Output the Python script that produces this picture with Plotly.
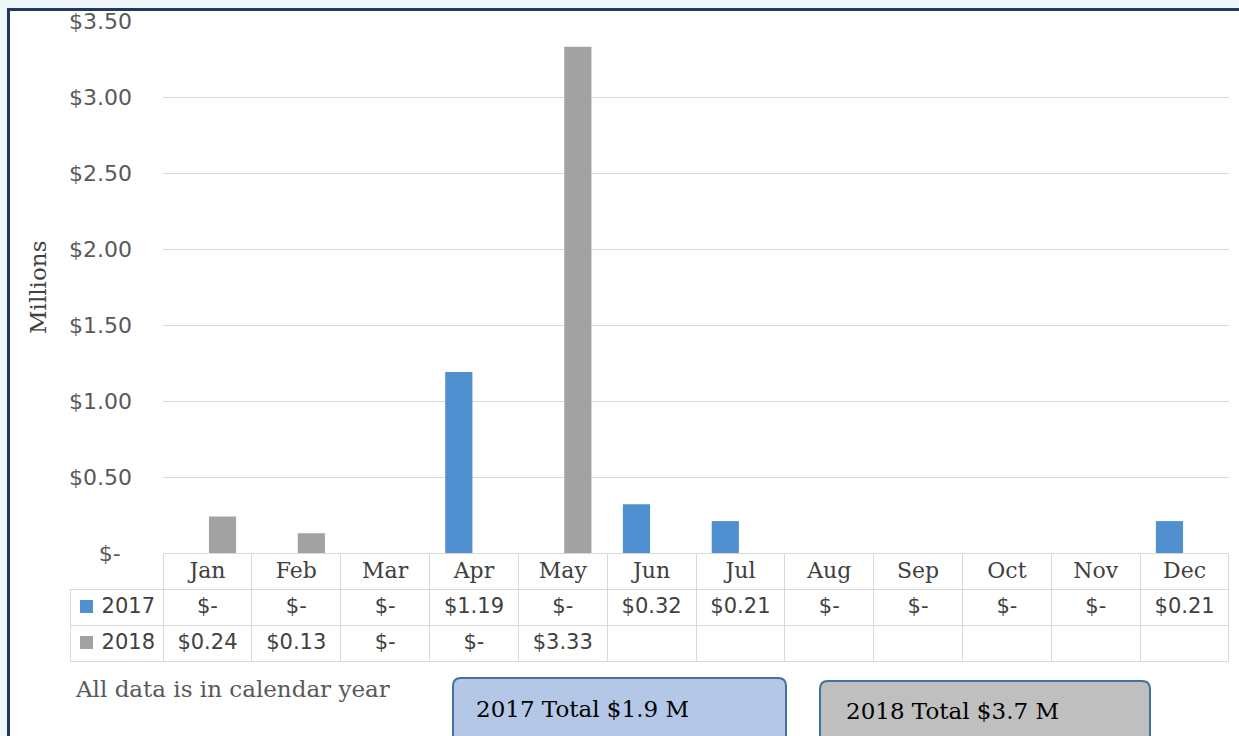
import plotly.graph_objects as go

# Monthly values, in millions of dollars
months = ["Jan", "Feb", "Mar", "Apr", "May", "Jun", "Jul", "Aug", "Sep", "Oct", "Nov", "Dec"]
sales_2017 = [0, 0, 0, 1.19, 0, 0.32, 0.21, 0, 0, 0, 0, 0.21]
sales_2018 = [0.24, 0.13, 0, 0, 3.33, None, None, None, None, None, None, None]
series_names = ["2017", "2018"]
totals = ["2017 Total $1.9 M", "2018 Total $3.7 M"]
y_ticks = [0, 0.5, 1.0, 1.5, 2.0, 2.5, 3.0, 3.5]

W, H = 1239, 736
BLUE = "#5090D0"
GREY = "#A2A2A2"
GRID = "#D9D9D9"
TEXT = "#404040"
CLEAR = "rgba(0,0,0,0)"
NUM_FONT = "DejaVu Sans"
SERIF = "DejaVu Serif"


def px_x(v):
    return v / W


def px_y(v):
    return 1 - v / H


def money(v):
    if v is None:
        return ""
    if v == 0:
        return "$-"
    return f"${v:.2f}"


def rounded_box(x0, y0, x1, y1, r=8):
    # path in paper coords from pixel corners
    pts = [
        f"M {px_x(x0 + r)},{px_y(y0)}",
        f"L {px_x(x1 - r)},{px_y(y0)}",
        f"Q {px_x(x1)},{px_y(y0)} {px_x(x1)},{px_y(y0 + r)}",
        f"L {px_x(x1)},{px_y(y1 - r)}",
        f"Q {px_x(x1)},{px_y(y1)} {px_x(x1 - r)},{px_y(y1)}",
        f"L {px_x(x0 + r)},{px_y(y1)}",
        f"Q {px_x(x0)},{px_y(y1)} {px_x(x0)},{px_y(y1 - r)}",
        f"L {px_x(x0)},{px_y(y0 + r)}",
        f"Q {px_x(x0)},{px_y(y0)} {px_x(x0 + r)},{px_y(y0)}",
        "Z",
    ]
    return " ".join(pts)


def note(text, x, y, size, color, xanchor="left", **kw):
    return dict(text=text, xref="paper", yref="paper", x=px_x(x), y=px_y(y),
                xanchor=xanchor, yanchor="middle", showarrow=False,
                font=dict(family=SERIF, size=size, color=color), **kw)


fig = go.Figure()

fig.add_trace(go.Bar(x=months, y=sales_2017, name=series_names[0],
                     marker=dict(color=BLUE, line=dict(width=0)), showlegend=False))
fig.add_trace(go.Bar(x=months, y=sales_2018, name=series_names[1],
                     marker=dict(color=GREY, line=dict(width=0)), showlegend=False))

# data table under the chart
cell_values = [series_names] + [[money(a), money(b)] for a, b in zip(sales_2017, sales_2018)]

fig.add_trace(go.Table(
    domain=dict(x=[px_x(70), px_x(1229)], y=[px_y(662), px_y(553)]),
    columnwidth=[93] + [88.8] * 12,
    header=dict(
        values=[""] + months,
        height=36,
        fill_color=[CLEAR] + ["white"] * 12,
        line=dict(color=[CLEAR] + [GRID] * 12, width=1),
        font=dict(family=SERIF, size=22, color=TEXT),
        align="center",
    ),
    cells=dict(
        values=cell_values,
        height=36,
        fill_color="white",
        line=dict(color=GRID, width=1),
        font=dict(family=NUM_FONT, size=21, color=TEXT),
        align=["right"] + ["center"] * 12,
    ),
))

# legend keys in the table's first column
key_shapes = [
    dict(type="rect", xref="paper", yref="paper",
         x0=px_x(80), x1=px_x(93), y0=px_y(top), y1=px_y(top + 13),
         fillcolor=c, line=dict(width=0))
    for top, c in [(600, BLUE), (636, GREY)]
]

fig.update_layout(
    width=W,
    height=H,
    margin=dict(l=0, r=0, t=0, b=0, autoexpand=False),
    paper_bgcolor="#F0F7FB",
    plot_bgcolor="white",
    barmode="group",
    bargap=0.32,
    bargroupgap=0.1,
    xaxis=dict(
        domain=[px_x(163), px_x(1229)],
        showticklabels=False,
        showgrid=False,
        showline=True,
        linecolor=GRID,
        ticks="",
        automargin=False,
    ),
    yaxis=dict(
        domain=[px_y(553), px_y(21)],
        range=[0, 3.5],
        tickvals=y_ticks,
        ticktext=["$-\u00a0\u2009"] + [f"${v:.2f}" for v in y_ticks[1:]],
        tickfont=dict(family=NUM_FONT, size=22, color="#595959"),
        ticklabelstandoff=30,
        gridcolor=GRID,
        zeroline=False,
        showline=False,
        automargin=False,
    ),
    shapes=[
        # outer frame
        dict(type="rect", xref="paper", yref="paper", layer="below",
             x0=px_x(8.5), x1=1.05, y0=-0.05, y1=px_y(9.5),
             fillcolor="white", line=dict(color="#203864", width=3)),
        dict(type="path", xref="paper", yref="paper",
             path=rounded_box(453, 678, 786, 745),
             fillcolor="#B4C7E7", line=dict(color="#41719C", width=2)),
        dict(type="path", xref="paper", yref="paper",
             path=rounded_box(820, 681, 1150, 745),
             fillcolor="#BFBFBF", line=dict(color="#41719C", width=2)),
    ] + key_shapes,
    annotations=[
        note("Millions", 38, 288, 23, TEXT, xanchor="center", textangle=-90),
        note("All data is in calendar year", 73, 689, 23, "#595959"),
        note(totals[0], 474, 709, 23, "black"),
        note(totals[1], 844, 711, 23, "black"),
    ],
)

fig.write_html(
    "out.html",
    config={"displayModeBar": False},
    post_script="document.body.style.margin='0';document.body.style.overflow='hidden';",
)
